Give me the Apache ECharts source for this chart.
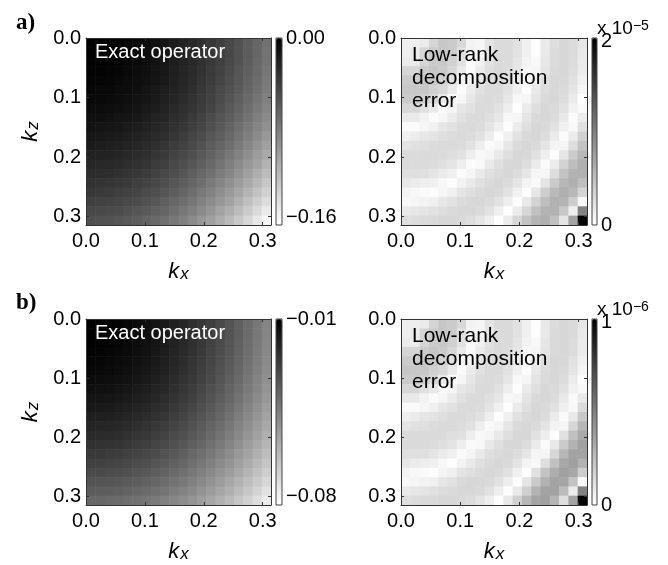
<!DOCTYPE html>
<html>
<head>
<meta charset="utf-8">
<script src="https://cdn.jsdelivr.net/npm/echarts@6/dist/echarts.min.js"></script>
<style>
  html, body { margin: 0; padding: 0; background: #ffffff; }
  #chart { width: 668px; height: 565px; }
</style>
</head>
<body>
<div id="chart"></div>
<script>
// Wavenumber range shown on both axes: 0 .. pi/10
const K_MAX = 0.31416;
// Cell centres along kx and kz
const kCenters = [0.00785, 0.02356, 0.03927, 0.05498, 0.07069, 0.08639, 0.10210, 0.11781, 0.13352, 0.14923,
                  0.16493, 0.18064, 0.19635, 0.21206, 0.22777, 0.24347, 0.25918, 0.27489, 0.29060, 0.30631];

// (a) exact operator, units of 1e-3 ; rows = kz (top to bottom), columns = kx
const exactA = [
  [0, 0, -1, -2, -4, -6, -8, -11, -14, -18, -22, -26, -31, -36, -41, -47, -53, -60, -67, -74],
  [0, -1, -2, -3, -4, -6, -9, -11, -14, -18, -22, -26, -31, -36, -41, -47, -54, -60, -67, -75],
  [-1, -1, -2, -3, -5, -7, -9, -12, -15, -19, -23, -27, -32, -37, -42, -48, -54, -61, -68, -76],
  [-2, -2, -3, -4, -6, -8, -10, -13, -16, -20, -24, -28, -33, -38, -43, -49, -56, -62, -69, -77],
  [-3, -3, -4, -5, -7, -9, -11, -14, -17, -21, -25, -29, -34, -39, -45, -51, -57, -64, -71, -79],
  [-4, -5, -5, -7, -8, -10, -13, -16, -19, -22, -26, -31, -36, -41, -47, -53, -59, -66, -73, -81],
  [-6, -6, -7, -8, -10, -12, -14, -17, -21, -24, -28, -33, -38, -43, -49, -55, -62, -69, -76, -84],
  [-8, -8, -9, -10, -12, -14, -17, -19, -23, -27, -31, -35, -40, -46, -52, -58, -65, -72, -79, -87],
  [-10, -10, -11, -13, -14, -16, -19, -22, -25, -29, -33, -38, -43, -49, -55, -61, -68, -75, -83, -91],
  [-12, -13, -14, -15, -17, -19, -22, -25, -28, -32, -36, -41, -46, -52, -58, -65, -72, -79, -87, -95],
  [-15, -16, -17, -18, -20, -22, -25, -28, -31, -35, -40, -45, -50, -56, -62, -69, -76, -83, -91, -100],
  [-18, -19, -20, -21, -23, -25, -28, -31, -35, -39, -43, -48, -54, -60, -66, -73, -80, -88, -96, -105],
  [-22, -22, -23, -24, -26, -29, -31, -35, -38, -43, -47, -52, -58, -64, -71, -78, -85, -93, -102, -110],
  [-25, -26, -27, -28, -30, -32, -35, -39, -42, -47, -52, -57, -63, -69, -76, -83, -91, -99, -107, -117],
  [-29, -29, -30, -32, -34, -36, -39, -43, -47, -51, -56, -62, -68, -74, -81, -88, -96, -105, -114, -123],
  [-33, -34, -35, -36, -38, -41, -44, -47, -51, -56, -61, -67, -73, -80, -87, -94, -102, -111, -120, -130],
  [-37, -38, -39, -41, -43, -45, -49, -52, -56, -61, -66, -72, -79, -85, -93, -101, -109, -118, -127, -137],
  [-42, -43, -44, -45, -48, -50, -54, -57, -62, -67, -72, -78, -85, -92, -99, -107, -116, -125, -135, -145],
  [-47, -48, -49, -50, -53, -56, -59, -63, -67, -72, -78, -84, -91, -98, -106, -114, -123, -133, -143, -154],
  [-52, -53, -54, -56, -58, -61, -65, -69, -73, -78, -84, -91, -98, -105, -113, -122, -131, -141, -152, -163]
];
// (a) low-rank decomposition error, units of 1e-7
const errorA = [
  [13, 13, 16, 33, 45, 42, 31, 10, 7, 22, 29, 29, 23, 12, 2, 17, 27, 32, 29, 20],
  [13, 16, 33, 42, 45, 42, 24, 10, 7, 22, 29, 29, 23, 12, 2, 17, 29, 32, 29, 18],
  [16, 16, 33, 42, 44, 37, 24, 3, 11, 24, 30, 29, 21, 9, 5, 19, 29, 32, 28, 16],
  [33, 33, 42, 45, 42, 31, 17, 3, 15, 26, 30, 28, 19, 6, 7, 21, 30, 32, 27, 15],
  [42, 42, 45, 44, 37, 24, 10, 7, 19, 28, 30, 26, 16, 3, 12, 25, 31, 31, 24, 11],
  [45, 44, 44, 37, 31, 17, 3, 15, 24, 29, 29, 23, 12, 2, 17, 27, 32, 30, 21, 7],
  [42, 42, 37, 31, 17, 3, 7, 19, 28, 30, 28, 19, 6, 7, 21, 30, 32, 27, 16, 1],
  [31, 31, 24, 17, 3, 7, 19, 24, 30, 29, 23, 14, 1, 15, 26, 32, 30, 23, 11, 5],
  [17, 17, 10, 3, 7, 15, 24, 29, 30, 26, 19, 6, 7, 21, 30, 32, 28, 18, 3, 15],
  [3, 3, 7, 11, 19, 24, 29, 30, 28, 21, 12, 2, 15, 26, 32, 30, 23, 11, 5, 25],
  [11, 15, 19, 22, 26, 29, 30, 28, 23, 14, 1, 12, 23, 30, 32, 27, 16, 3, 15, 37],
  [22, 24, 26, 28, 30, 30, 28, 23, 14, 3, 7, 19, 29, 32, 30, 21, 9, 7, 27, 48],
  [29, 29, 30, 30, 29, 26, 23, 14, 6, 7, 17, 26, 32, 31, 24, 13, 1, 20, 42, 57],
  [30, 29, 29, 28, 25, 21, 14, 3, 5, 17, 26, 31, 32, 27, 16, 3, 15, 35, 52, 63],
  [26, 26, 25, 21, 16, 12, 3, 7, 17, 25, 30, 32, 28, 20, 7, 7, 27, 48, 61, 62],
  [19, 16, 14, 12, 6, 2, 10, 17, 25, 30, 32, 29, 21, 9, 5, 22, 42, 58, 63, 52],
  [9, 6, 3, 2, 7, 12, 21, 26, 30, 32, 30, 23, 11, 1, 20, 39, 55, 63, 57, 34],
  [5, 7, 10, 12, 19, 23, 29, 31, 32, 29, 23, 13, 1, 17, 35, 52, 62, 60, 40, 6],
  [17, 19, 21, 23, 27, 30, 32, 32, 29, 23, 13, 1, 15, 32, 50, 61, 62, 45, 13, 99],
  [26, 27, 29, 30, 32, 32, 30, 27, 21, 13, 1, 15, 32, 48, 60, 63, 50, 21, 74, 199]
];
// (b) exact operator, units of 1e-4
const exactB = [
  [-100, -102, -106, -112, -120, -130, -142, -156, -172, -190, -210, -232, -256, -282, -310, -340, -372, -406, -442, -480],
  [-102, -104, -108, -114, -122, -132, -144, -158, -174, -192, -212, -234, -258, -284, -312, -342, -374, -408, -444, -482],
  [-105, -107, -111, -117, -125, -135, -147, -161, -177, -195, -215, -237, -261, -287, -315, -345, -377, -411, -447, -485],
  [-110, -112, -116, -122, -130, -140, -152, -166, -182, -200, -220, -242, -266, -292, -320, -350, -382, -416, -452, -490],
  [-116, -118, -122, -128, -136, -146, -158, -172, -188, -206, -226, -248, -272, -298, -326, -356, -388, -422, -458, -496],
  [-124, -126, -130, -136, -144, -154, -166, -180, -196, -214, -234, -256, -280, -306, -334, -364, -396, -430, -466, -504],
  [-133, -135, -139, -145, -153, -163, -175, -189, -205, -223, -243, -265, -289, -315, -343, -373, -405, -439, -475, -513],
  [-144, -146, -150, -156, -164, -174, -186, -200, -216, -234, -254, -276, -300, -326, -354, -384, -416, -450, -486, -524],
  [-156, -158, -162, -168, -176, -186, -198, -212, -228, -246, -266, -288, -312, -338, -366, -396, -428, -462, -498, -536],
  [-170, -172, -176, -182, -190, -200, -212, -226, -242, -260, -280, -302, -326, -352, -380, -410, -442, -476, -512, -550],
  [-186, -188, -192, -198, -206, -216, -228, -242, -258, -276, -296, -318, -342, -368, -396, -426, -458, -492, -528, -566],
  [-203, -205, -209, -215, -223, -233, -245, -259, -275, -293, -313, -335, -359, -385, -413, -443, -475, -509, -545, -583],
  [-221, -223, -227, -233, -241, -251, -263, -277, -293, -311, -331, -353, -377, -403, -431, -461, -493, -527, -563, -601],
  [-241, -243, -247, -253, -261, -271, -283, -297, -313, -331, -351, -373, -397, -423, -451, -481, -513, -547, -583, -621],
  [-263, -265, -269, -275, -283, -293, -305, -319, -335, -353, -373, -395, -419, -445, -473, -503, -535, -569, -605, -643],
  [-286, -288, -292, -298, -306, -316, -328, -342, -358, -376, -396, -418, -442, -468, -496, -526, -558, -592, -628, -666],
  [-311, -313, -317, -323, -331, -341, -353, -367, -383, -401, -421, -443, -467, -493, -521, -551, -583, -617, -653, -691],
  [-338, -340, -344, -350, -358, -368, -380, -394, -410, -428, -448, -470, -494, -520, -548, -578, -610, -644, -680, -718],
  [-365, -367, -371, -377, -385, -395, -407, -421, -437, -455, -475, -497, -521, -547, -575, -605, -637, -671, -707, -745],
  [-395, -397, -401, -407, -415, -425, -437, -451, -467, -485, -505, -527, -551, -577, -605, -635, -667, -701, -737, -775]
];
// (b) low-rank decomposition error, units of 1e-8
const errorB = [
  [7, 7, 8, 17, 23, 21, 16, 5, 4, 11, 15, 15, 12, 6, 1, 9, 14, 16, 15, 10],
  [7, 8, 17, 21, 23, 21, 12, 5, 4, 11, 15, 15, 12, 6, 1, 9, 15, 16, 15, 9],
  [8, 8, 17, 21, 22, 19, 12, 2, 6, 12, 15, 15, 11, 5, 3, 10, 15, 16, 14, 8],
  [17, 17, 21, 23, 21, 16, 9, 2, 8, 13, 15, 14, 10, 3, 4, 11, 15, 16, 14, 8],
  [21, 21, 23, 22, 19, 12, 5, 4, 10, 14, 15, 13, 8, 2, 6, 13, 16, 16, 12, 6],
  [23, 22, 22, 19, 16, 9, 2, 8, 12, 15, 15, 12, 6, 1, 9, 14, 16, 15, 11, 4],
  [21, 21, 19, 16, 9, 2, 4, 10, 14, 15, 14, 10, 3, 4, 11, 15, 16, 14, 8, 1],
  [16, 16, 12, 9, 2, 4, 10, 12, 15, 15, 12, 7, 1, 8, 13, 16, 15, 12, 6, 3],
  [9, 9, 5, 2, 4, 8, 12, 15, 15, 13, 10, 3, 4, 11, 15, 16, 14, 9, 2, 9],
  [2, 2, 4, 6, 10, 12, 15, 15, 14, 11, 6, 1, 8, 13, 16, 15, 12, 6, 3, 15],
  [6, 8, 10, 11, 13, 15, 15, 14, 12, 7, 1, 6, 12, 15, 16, 14, 8, 2, 9, 22],
  [11, 12, 13, 14, 15, 15, 14, 12, 7, 2, 4, 10, 15, 16, 15, 11, 5, 4, 16, 29],
  [15, 15, 15, 15, 15, 13, 12, 7, 3, 4, 9, 13, 16, 16, 12, 7, 1, 12, 25, 34],
  [15, 15, 15, 14, 13, 11, 7, 2, 3, 9, 13, 16, 16, 14, 8, 2, 9, 21, 31, 38],
  [13, 13, 13, 11, 8, 6, 2, 4, 9, 13, 15, 16, 14, 10, 4, 4, 16, 29, 37, 37],
  [10, 8, 7, 6, 3, 1, 5, 9, 13, 15, 16, 15, 11, 5, 3, 13, 25, 35, 38, 31],
  [5, 3, 2, 1, 4, 6, 11, 13, 15, 16, 15, 12, 6, 1, 12, 24, 33, 38, 35, 20],
  [3, 4, 5, 6, 10, 12, 15, 16, 16, 15, 12, 7, 1, 10, 21, 31, 37, 36, 24, 3],
  [9, 10, 11, 12, 14, 15, 16, 16, 15, 12, 7, 1, 9, 19, 30, 37, 37, 27, 8, 50],
  [13, 14, 15, 15, 16, 16, 15, 14, 11, 7, 1, 9, 19, 29, 36, 38, 30, 13, 37, 100]
];

const FONT = '"Liberation Sans", Arial, Helvetica, sans-serif';
const MINUS = '\u2212';

function toCells(grid, centers, unit) {
  const out = [];
  grid.forEach(function (row, j) {
    row.forEach(function (v, i) {
      out.push([centers[i], centers[j], v * unit]);
    });
  });
  return out;
}

function cellRenderer(centers) {
  const half = (centers[1] - centers[0]) / 2;
  return function (params, api) {
    const kx = api.value(0), kz = api.value(1);
    const a = api.coord([kx - half, kz - half]);
    const b = api.coord([kx + half, kz + half]);
    return {
      type: 'rect',
      shape: {
        x: Math.min(a[0], b[0]), y: Math.min(a[1], b[1]),
        width: Math.abs(b[0] - a[0]) + 0.6, height: Math.abs(b[1] - a[1]) + 0.6
      },
      style: { fill: api.visual('color') },
      silent: true
    };
  };
}

function tickFmt(v) {
  return Math.abs(v * 10 - Math.round(v * 10)) < 1e-6 ? v.toFixed(1) : '';
}

const nameRich = {
  k: { fontSize: 22, fontStyle: 'italic', fontFamily: FONT, color: '#000', lineHeight: 22, verticalAlign: 'top' },
  s: { fontSize: 17, fontStyle: 'italic', fontFamily: FONT, color: '#000', lineHeight: 17, padding: [12, 0, 0, 1], verticalAlign: 'bottom' }
};

const option = {
  animation: false,
  backgroundColor: '#ffffff',
  grid: [], xAxis: [], yAxis: [], visualMap: [], series: [], graphic: []
};

function addPanel(p) {
  const g = option.grid.length;
  option.grid.push({ left: p.left, top: p.top, width: p.w, height: p.h, show: false });
  const axisCommon = {
    gridIndex: g, type: 'value', min: 0, max: K_MAX, interval: 0.1, z: 5,
    axisLine: { show: true, onZero: false, lineStyle: { color: '#333', width: 1 } },
    axisTick: { show: true, inside: true, length: 3, lineStyle: { color: '#333' } },
    splitLine: { show: false }
  };
  const xi = option.xAxis.length;
  option.xAxis.push(Object.assign({}, axisCommon, {
    position: 'bottom',
    axisLabel: { fontSize: 20, color: '#000', fontFamily: FONT, margin: 6, formatter: tickFmt },
    name: '{k|k}{s|x}', nameLocation: 'middle', nameGap: 36,
    nameTextStyle: { rich: nameRich }
  }));
  option.xAxis.push(Object.assign({}, axisCommon, { position: 'top', axisLabel: { show: false } }));
  const yi = option.yAxis.length;
  option.yAxis.push(Object.assign({}, axisCommon, {
    position: 'left', inverse: true,
    axisLabel: { fontSize: 20, color: '#000', fontFamily: FONT, margin: 5, formatter: tickFmt },
    name: p.showYName ? '{k|k}{s|z}' : '', nameLocation: 'middle', nameGap: 44, nameRotate: 90,
    nameTextStyle: { rich: nameRich }
  }));
  option.yAxis.push(Object.assign({}, axisCommon, { position: 'right', inverse: true, axisLabel: { show: false } }));

  const si = option.series.length;
  option.series.push({
    type: 'custom', xAxisIndex: xi, yAxisIndex: yi, coordinateSystem: 'cartesian2d',
    renderItem: cellRenderer(p.centers), clip: true, z: 1,
    encode: { x: 0, y: 1 },
    data: toCells(p.values, p.centers, p.unit)
  });

  // colour bar frame + tick labels
  const cg = option.grid.length;
  option.grid.push({ left: p.cbLeft, top: p.top, width: p.cbW, height: p.h, show: true, z: 6,
    borderColor: '#444', borderWidth: 1, backgroundColor: 'transparent' });
  option.xAxis.push({ gridIndex: cg, type: 'value', show: false });
  option.yAxis.push({
    gridIndex: cg, type: 'value', position: 'right', min: p.cMin, max: p.cMax,
    axisLine: { show: false }, axisTick: { show: false }, splitLine: { show: false },
    axisLabel: { show: true, customValues: p.cTicks, formatter: p.cFmt, fontSize: 20, color: '#000', fontFamily: FONT, margin: 4 }
  });
  option.visualMap.push({
    type: 'continuous', seriesIndex: si, dimension: 2, min: p.cMin, max: p.cMax,
    inRange: { color: ['#ffffff', '#000000'] },
    orient: 'vertical', left: p.cbLeft, top: p.top, itemWidth: p.cbW, itemHeight: p.h,
    padding: 0, calculable: false, hoverLink: false, show: true, z: 5
  });
  if (p.cExp) {
    // colour-bar multiplier, e.g. "x 10^-5"
    option.graphic.push({
      type: 'text', left: p.cbLeft + p.cbW, top: p.top - 27, z: 10,
      style: {
        text: '{m|x 10}{sup|' + MINUS + p.cExp + '}',
        rich: {
          m: { fontSize: 19, fontFamily: FONT, fill: '#000', lineHeight: 19, verticalAlign: 'bottom', padding: [8, 0, 0, 0] },
          sup: { fontSize: 14, fontFamily: FONT, fill: '#000', lineHeight: 14, verticalAlign: 'top' }
        }
      }
    });
  }
}

const fmtMinus2 = function (v) { return (v < 0 ? MINUS : '') + Math.abs(v).toFixed(2); };
const fmtScaled = function (s) { return function (v) { return String(Math.round(v / s)); }; };

addPanel({ left: 86, top: 38, w: 185, h: 187, values: exactA, centers: kCenters, unit: 1e-3, showYName: true,
  cbLeft: 276, cbW: 6, cMin: -0.167, cMax: 0, cTicks: [-0.16, 0], cFmt: fmtMinus2 });
addPanel({ left: 401, top: 38, w: 186, h: 187, values: errorA, centers: kCenters, unit: 1e-7, showYName: false,
  cbLeft: 592, cbW: 5, cMin: 0, cMax: 2.04e-5, cTicks: [0, 2e-5], cFmt: fmtScaled(1e-5), cExp: '5' });
addPanel({ left: 86, top: 319, w: 185, h: 186, values: exactB, centers: kCenters, unit: 1e-4, showYName: true,
  cbLeft: 276, cbW: 6, cMin: -0.0832, cMax: -0.01, cTicks: [-0.08, -0.01], cFmt: fmtMinus2 });
addPanel({ left: 401, top: 319, w: 186, h: 186, values: errorB, centers: kCenters, unit: 1e-8, showYName: false,
  cbLeft: 592, cbW: 5, cMin: 0, cMax: 1.02e-6, cTicks: [0, 1e-6], cFmt: fmtScaled(1e-6), cExp: '6' });

// panel letters and in-plot captions
const serifBold = 'bold 23px "Liberation Serif", "Times New Roman", serif';
option.graphic.push(
  { type: 'text', left: 16, top: 12, z: 10, style: { text: 'a)', font: serifBold, fill: '#000' } },
  { type: 'text', left: 16, top: 292, z: 10, style: { text: 'b)', font: serifBold, fill: '#000' } },
  { type: 'text', left: 95, top: 42, z: 10, style: { text: 'Exact operator', font: '20px ' + FONT, fill: '#ffffff' } },
  { type: 'text', left: 95, top: 323, z: 10, style: { text: 'Exact operator', font: '20px ' + FONT, fill: '#ffffff' } },
  { type: 'text', left: 412, top: 44, z: 10, style: { text: 'Low-rank\ndecomposition\nerror', font: '21px ' + FONT, lineHeight: 23, fill: '#000' } },
  { type: 'text', left: 412, top: 325, z: 10, style: { text: 'Low-rank\ndecomposition\nerror', font: '21px ' + FONT, lineHeight: 23, fill: '#000' } }
);

const chart = echarts.init(document.getElementById('chart'), null, { renderer: 'canvas' });
chart.setOption(option);
</script>
</body>
</html>
